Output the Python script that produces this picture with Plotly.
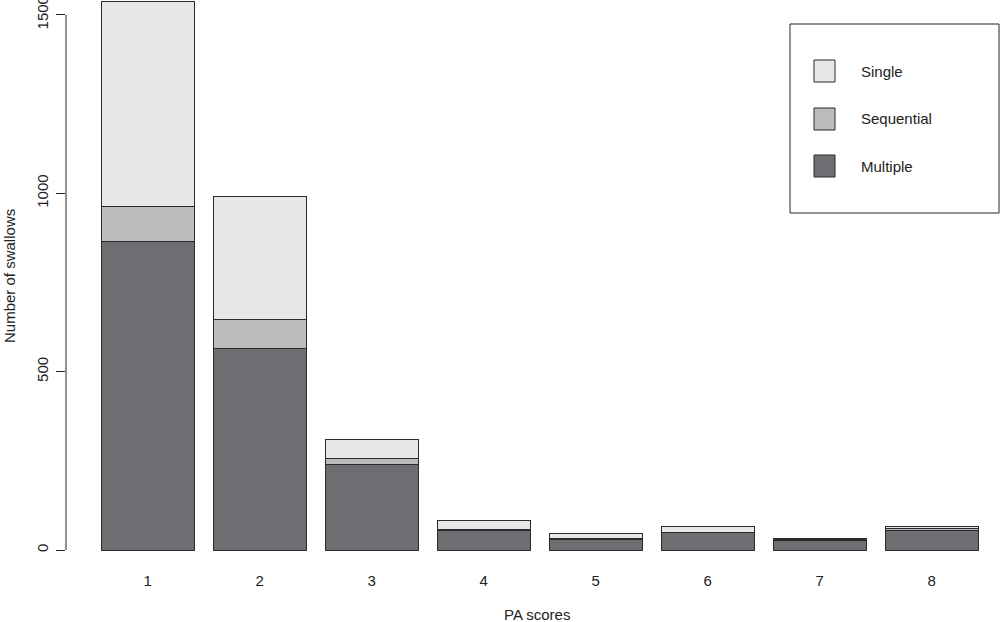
import plotly.graph_objects as go

scores = [1, 2, 3, 4, 5, 6, 7, 8]
multiple = [865, 565, 239, 56, 30, 48, 27, 55]
sequential = [98, 81, 17, 2, 3, 2, 2, 5]
single = [576, 345, 53, 26, 12, 15, 2, 5]

series = [("Multiple", multiple, "#6d6e71"),
          ("Sequential", sequential, "#bbbcbe"),
          ("Single", single, "#e6e7e8")]

FONT = "Liberation Sans, Arial, Helvetica, sans-serif"
FS = 15
W, H = 1000, 622
L, R, T, B = 66, 0, 0, 52

fig = go.Figure()
for name, vals, col in series:
    fig.add_trace(go.Bar(x=scores, y=vals, name=name, width=0.83,
                         marker=dict(color=col, line=dict(color="#2b2b2b", width=1)),
                         showlegend=False))


def px_x(p):
    return (p - L) / (W - L - R)


def px_y(p):
    return (H - B - p) / (H - T - B)


# y axis line over the tick range, as in R
fig.add_shape(type="line", xref="paper", yref="y", x0=0, x1=0, y0=0, y1=1500,
              line=dict(color="#222", width=1))

# legend box drawn by hand
fig.add_shape(type="rect", xref="paper", yref="paper",
              x0=px_x(790), x1=px_x(999), y0=px_y(213), y1=px_y(24),
              line=dict(color="#222", width=1), fillcolor="white")
for (name, vals, col), cy in zip(reversed(series), [71, 119, 166]):
    fig.add_shape(type="rect", xref="paper", yref="paper",
                  x0=px_x(814), x1=px_x(835), y0=px_y(cy + 11), y1=px_y(cy - 11),
                  line=dict(color="#2b2b2b", width=1), fillcolor=col)
    fig.add_annotation(xref="paper", yref="paper", x=px_x(859), y=px_y(cy),
                       text=name, showarrow=False, xanchor="left", yanchor="middle",
                       font=dict(family=FONT, size=FS, color="#222"))

# axis titles
fig.add_annotation(xref="paper", yref="paper", x=px_x(537), y=px_y(614),
                   text="PA scores", showarrow=False, xanchor="center", yanchor="middle",
                   font=dict(family=FONT, size=FS, color="#222"))
fig.add_annotation(xref="paper", yref="paper", x=px_x(9), y=px_y(276),
                   text="Number of swallows", showarrow=False, textangle=-90,
                   xanchor="center", yanchor="middle",
                   font=dict(family=FONT, size=FS, color="#222"))

fig.update_layout(
    width=W, height=H,
    margin=dict(l=L, r=R, t=T, b=B),
    barmode="stack",
    plot_bgcolor="white", paper_bgcolor="white",
    font=dict(family=FONT, size=FS, color="#222"),
    xaxis=dict(range=[0.272, 8.61], tickvals=scores, ticks="", showline=False,
               showgrid=False, zeroline=False, automargin=False),
    yaxis=dict(range=[-56, 1542], tickvals=[0, 500, 1000, 1500], ticks="outside",
               ticklen=9, tickcolor="#222", tickangle=-90, showline=False,
               showgrid=False, zeroline=False, ticklabelstandoff=2, automargin=False,
               ticklabeloverflow="allow"),
)

# the page body has a default 8px margin; drop it so the figure sits at 0,0
fig.write_html("out.html", config={"displayModeBar": False},
               post_script="document.body.style.margin='0';")
